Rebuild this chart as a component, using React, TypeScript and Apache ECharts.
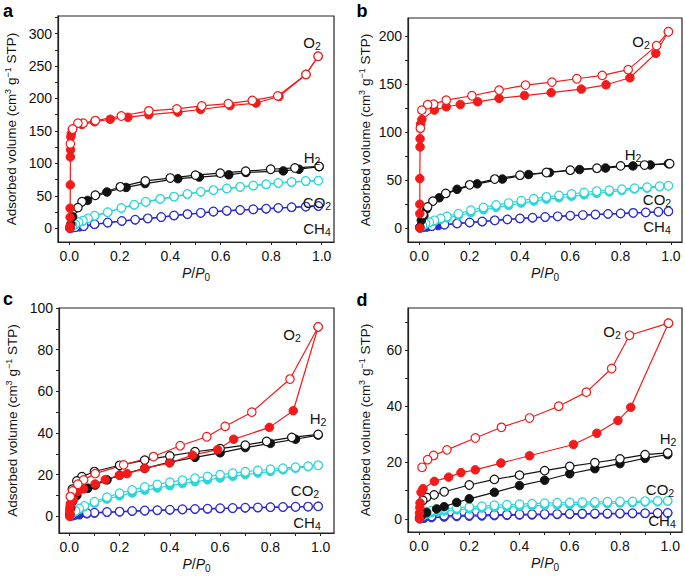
import React, { useEffect, useRef } from "react";
import * as echarts from "echarts";

// ---------- DATA (x = P/P0, y = adsorbed volume) ----------
// Panel a
const a_O2_ads = [[0.002,0],[0.003,3],[0.003,17],[0.003,31],[0.004,67],[0.004,110],[0.005,121],[0.006,141],[0.008,146],[0.012,152],[0.05,160],[0.1,164],[0.162,168],[0.232,171],[0.315,175],[0.43,179],[0.52,183],[0.637,189],[0.74,193],[0.831,203],[0.938,237],[0.986,265]];
const a_O2_des = [[0.986,265],[0.938,237],[0.826,204],[0.725,197],[0.63,192],[0.525,188.5],[0.426,184],[0.315,181],[0.206,173],[0.103,166],[0.055,162],[0.034,162],[0.013,153],[0.004,130]];
const a_H2_ads = [[0.002,1],[0.006,6],[0.013,18],[0.072,43],[0.149,56],[0.225,63],[0.3,69],[0.43,76.5],[0.515,79],[0.632,82.5],[0.7,86],[0.848,88.5],[0.91,91],[0.99,95]];
const a_H2_des = [[0.99,95.5],[0.894,93],[0.798,91],[0.699,88],[0.598,85],[0.5,82],[0.4,77.5],[0.301,73],[0.202,64],[0.103,51],[0.05,41],[0.034,32]];
const a_CO2_ads = [[0.003,1],[0.013,4],[0.024,6],[0.037,9],[0.054,11],[0.074,15],[0.1,19],[0.152,24.5],[0.206,31],[0.257,36],[0.303,40.5],[0.36,45],[0.415,48.5],[0.468,52.5],[0.521,56],[0.571,58.5],[0.624,61],[0.677,63.5],[0.729,65.5],[0.78,67.5],[0.828,69.5],[0.881,71],[0.937,72.5],[0.987,73.5]];
const a_CO2_des = [[0.987,73.5],[0.937,73],[0.881,71.5],[0.828,70],[0.78,68],[0.729,66],[0.677,64],[0.624,61.5],[0.571,59],[0.521,56.5],[0.468,53],[0.415,49],[0.36,45.5],[0.303,41],[0.257,36.5],[0.206,31.5],[0.152,25],[0.1,19.5],[0.074,15.5],[0.054,12],[0.037,9.5],[0.024,6.5],[0.013,4.5]];
const a_CH4_ads = [[0.003,0],[0.012,0.8],[0.024,1.5],[0.04,2.3],[0.057,3],[0.1,6],[0.152,8.5],[0.208,11],[0.261,13],[0.311,15],[0.364,17],[0.415,19.5],[0.468,21.5],[0.521,23.5],[0.571,25.5],[0.624,26.8],[0.677,28],[0.729,29],[0.78,30],[0.828,31.3],[0.881,32.3],[0.937,33.3],[0.987,34.2]];
const a_CH4_des = [[0.987,34.5],[0.937,33.6],[0.881,32.6],[0.828,31.6],[0.78,30.4],[0.729,29.4],[0.677,28.4],[0.624,27.2],[0.571,26],[0.521,24],[0.468,22],[0.415,20],[0.364,17.5],[0.311,15.5],[0.261,13.5],[0.208,11.5],[0.152,9],[0.1,6.5],[0.057,3.5],[0.024,2]];

// Panel b
const b_O2_ads = [[0.002,0],[0.002,15],[0.002,24.7],[0.002,51.5],[0.003,84.5],[0.003,93],[0.005,108],[0.01,113],[0.06,122.8],[0.107,126.3],[0.163,128.7],[0.232,131.5],[0.317,135],[0.418,138],[0.524,141],[0.644,144.7],[0.742,149.2],[0.837,156.5],[0.94,182],[0.99,204.5]];
const b_O2_des = [[0.99,204.5],[0.943,190],[0.83,165],[0.727,159],[0.626,155.5],[0.527,152],[0.422,148.9],[0.317,143.7],[0.209,137.8],[0.107,133.2],[0.057,129],[0.033,128.5],[0.01,122.8],[0.004,104]];
const b_H2_ads = [[0.002,1],[0.008,8],[0.018,13],[0.03,20],[0.079,31.5],[0.15,40.3],[0.23,46],[0.33,51],[0.434,55.7],[0.517,57.8],[0.637,60.9],[0.74,62.5],[0.849,64.7],[0.918,65.7],[0.99,67]];
const b_H2_des = [[0.995,67],[0.895,65.6],[0.8,64.7],[0.706,62.3],[0.6,60.2],[0.505,57.8],[0.4,55],[0.3,51],[0.2,45],[0.105,36],[0.054,28],[0.033,22],[0.015,14]];
const b_CO2_ads = [[0.003,0.5],[0.013,2],[0.025,4],[0.04,5.5],[0.06,7],[0.085,9],[0.11,10.5],[0.155,13],[0.205,16],[0.255,19],[0.305,21.5],[0.355,23.5],[0.405,26],[0.455,28],[0.505,30],[0.555,31.5],[0.605,33],[0.655,34.5],[0.705,36],[0.755,37.5],[0.805,39],[0.855,40.5],[0.905,41.5],[0.955,43],[0.99,44]];
const b_CO2_des = [[0.99,44],[0.955,43.5],[0.905,42.5],[0.855,41.5],[0.805,40.5],[0.755,39.5],[0.705,38.5],[0.655,37],[0.605,35.5],[0.555,34],[0.505,32.5],[0.455,30.5],[0.405,28.5],[0.355,26],[0.305,24],[0.255,21.5],[0.205,18.5],[0.155,15],[0.11,12],[0.085,10],[0.06,8],[0.04,6],[0.025,4.5],[0.013,2.5]];
const b_CH4_ads = [[0.003,0],[0.015,0.5],[0.03,1],[0.05,1.8],[0.075,2.5],[0.1,3.3],[0.15,4.5],[0.2,5.5],[0.25,6.5],[0.3,7.8],[0.35,8.8],[0.4,9.8],[0.45,10.5],[0.5,11.2],[0.55,12],[0.6,12.7],[0.65,13.3],[0.7,13.9],[0.75,14.5],[0.8,15],[0.85,15.6],[0.9,16.1],[0.95,16.7],[0.99,17.2]];
const b_CH4_des = [[0.99,17.4],[0.95,16.9],[0.9,16.3],[0.85,15.8],[0.8,15.2],[0.75,14.7],[0.7,14.1],[0.65,13.5],[0.6,12.9],[0.55,12.2],[0.5,11.5],[0.45,10.8],[0.4,10],[0.35,9],[0.3,8],[0.25,6.8],[0.2,5.8],[0.15,4.8],[0.1,3.6],[0.05,2]];

// Panel c
const c_O2_ads = [[0.002,0],[0.002,1.5],[0.002,3],[0.003,4.5],[0.004,6],[0.017,8],[0.034,12],[0.057,13.2],[0.103,15.5],[0.143,17.6],[0.2,19.7],[0.23,20.5],[0.3,23],[0.399,25.6],[0.49,29.4],[0.59,32],[0.654,37],[0.796,42.7],[0.891,50.7],[0.99,90.9]];
const c_O2_des = [[0.99,90.9],[0.878,65.9],[0.726,50],[0.62,43.2],[0.547,38.2],[0.441,33.9],[0.335,28.7],[0.216,24.7],[0.103,20.5],[0.057,17.5],[0.034,15.4],[0.013,12.2],[0.004,9.5]];
const c_H2_ads = [[0.002,1],[0.006,4],[0.013,7.2],[0.03,10],[0.074,13.5],[0.103,15],[0.15,17.5],[0.2,19.8],[0.3,23],[0.4,26],[0.5,28.3],[0.6,30.5],[0.7,33],[0.8,35],[0.9,37],[0.99,39]];
const c_H2_des = [[0.99,39.3],[0.885,37.9],[0.785,36],[0.7,34.2],[0.6,32.5],[0.5,31],[0.4,29],[0.3,27],[0.2,24.5],[0.1,21.5],[0.05,19],[0.03,17],[0.012,13]];
const c_CO2_ads = [[0.003,0.3],[0.012,1.2],[0.025,2.3],[0.04,3.3],[0.06,4.6],[0.1,6.3],[0.15,8.3],[0.2,9.8],[0.25,11.2],[0.3,12.5],[0.35,13.6],[0.4,14.7],[0.45,15.7],[0.5,16.6],[0.55,17.5],[0.6,18.4],[0.65,19.2],[0.7,20],[0.75,20.8],[0.8,21.5],[0.85,22.3],[0.9,23],[0.95,23.8],[0.99,24.5]];
const c_CO2_des = [[0.99,24.5],[0.95,24.1],[0.9,23.6],[0.85,23.1],[0.8,22.6],[0.75,22],[0.7,21.4],[0.65,20.7],[0.6,20],[0.55,19.2],[0.5,18.3],[0.45,17.4],[0.4,16.4],[0.35,15.3],[0.3,14.1],[0.25,12.7],[0.2,11.1],[0.15,9.2],[0.1,7],[0.06,5],[0.04,3.8],[0.025,2.6]];
const c_CH4_ads = [[0.003,0],[0.01,0.2],[0.02,0.4],[0.04,0.7],[0.07,1.2],[0.1,1.5],[0.15,1.9],[0.2,2.1],[0.25,2.4],[0.3,2.6],[0.35,2.8],[0.4,3],[0.45,3.2],[0.5,3.4],[0.55,3.5],[0.6,3.7],[0.65,3.8],[0.7,4],[0.75,4.1],[0.8,4.3],[0.85,4.4],[0.9,4.5],[0.95,4.6],[0.99,4.8]];
const c_CH4_des = [[0.99,4.8],[0.95,4.7],[0.9,4.6],[0.85,4.5],[0.8,4.4],[0.75,4.3],[0.7,4.2],[0.65,4],[0.6,3.9],[0.55,3.7],[0.5,3.6],[0.45,3.4],[0.4,3.2],[0.35,3],[0.3,2.8],[0.25,2.6],[0.2,2.3],[0.15,2.1],[0.1,1.8],[0.07,1.6]];

// Panel d
const d_O2_ads = [[0.002,0],[0.002,2],[0.003,4],[0.004,5.6],[0.008,9.4],[0.016,10.7],[0.061,13.3],[0.118,14.8],[0.167,16.4],[0.224,17.4],[0.326,19.8],[0.44,22.4],[0.615,26.4],[0.708,30.4],[0.792,34.9],[0.843,39.6],[0.993,69.5]];
const d_O2_des = [[0.993,69.5],[0.838,65.2],[0.767,53.4],[0.666,45],[0.556,40],[0.44,35.8],[0.328,32.5],[0.224,28.7],[0.111,24.5],[0.058,22.5],[0.034,21],[0.012,18.3]];
const d_H2_ads = [[0.002,0.3],[0.008,1],[0.03,2.2],[0.07,3.5],[0.1,4.3],[0.15,5.8],[0.2,7.1],[0.3,9.4],[0.4,11.8],[0.5,13.7],[0.6,16],[0.7,17.8],[0.8,19.6],[0.9,21.5],[0.99,22.8]];
const d_H2_des = [[0.99,23.4],[0.9,22.8],[0.8,21.3],[0.7,19.9],[0.6,18.6],[0.5,17.1],[0.4,15.5],[0.3,14],[0.2,12],[0.1,9.6],[0.06,8.5],[0.03,7.6],[0.015,6.5]];
const d_CO2_ads = [[0.003,0.2],[0.015,1],[0.03,1.6],[0.05,2.1],[0.075,2.5],[0.1,2.8],[0.15,3.2],[0.2,3.5],[0.25,3.8],[0.3,4],[0.35,4.2],[0.4,4.4],[0.45,4.6],[0.5,4.8],[0.55,4.9],[0.6,5],[0.65,5.2],[0.7,5.3],[0.75,5.4],[0.8,5.6],[0.85,5.7],[0.9,5.9],[0.95,6],[0.99,6.2]];
const d_CO2_des = [[0.99,6.4],[0.95,6.35],[0.9,6.3],[0.85,6.2],[0.8,6.15],[0.75,6.05],[0.7,6],[0.65,5.9],[0.6,5.8],[0.55,5.7],[0.5,5.55],[0.45,5.4],[0.4,5.2],[0.35,5],[0.3,4.8],[0.25,4.5],[0.2,4.2],[0.15,3.9],[0.1,3.5],[0.075,3.2],[0.05,2.9],[0.03,2.5]];
const d_CH4_ads = [[0.003,0],[0.02,0.2],[0.05,0.4],[0.1,0.6],[0.15,0.8],[0.2,0.9],[0.25,1],[0.3,1.1],[0.35,1.2],[0.4,1.3],[0.45,1.35],[0.5,1.4],[0.55,1.5],[0.6,1.55],[0.65,1.6],[0.7,1.65],[0.75,1.7],[0.8,1.75],[0.85,1.8],[0.9,1.85],[0.95,1.9],[0.99,2]];
const d_CH4_des = [[0.99,2.1],[0.95,2.05],[0.9,2],[0.85,2],[0.8,1.95],[0.75,1.9],[0.7,1.9],[0.65,1.85],[0.6,1.8],[0.55,1.75],[0.5,1.7],[0.45,1.65],[0.4,1.6],[0.35,1.5],[0.3,1.45],[0.25,1.4],[0.2,1.3],[0.15,1.2],[0.1,1.1],[0.05,0.9]];

// Tick values
const X_LABELS = [0, 0.2, 0.4, 0.6, 0.8, 1.0];
const X_TICKS = [0, 0.1, 0.2, 0.3, 0.4, 0.5, 0.6, 0.7, 0.8, 0.9, 1.0];
const A_Y_LABELS = [0, 50, 100, 150, 200, 250, 300];
const A_Y_TICKS = [0, 25, 50, 75, 100, 125, 150, 175, 200, 225, 250, 275, 300, 325];
const B_Y_LABELS = [0, 50, 100, 150, 200];
const B_Y_TICKS = [0, 25, 50, 75, 100, 125, 150, 175, 200];
const C_Y_LABELS = [0, 20, 40, 60, 80, 100];
const C_Y_TICKS = [0, 10, 20, 30, 40, 50, 60, 70, 80, 90, 100];
const D_Y_LABELS = [0, 20, 40, 60];
const D_Y_TICKS = [0, 10, 20, 30, 40, 50, 60, 70];

const GASES = ["CH4", "CO2", "H2", "O2"];
const COLORS: Record<string, string> = { O2: "#f31a1a", H2: "#111111", CO2: "#2ad6d6", CH4: "#2b2bd0" };

const FONT = "'Liberation Sans', Arial, Helvetica, sans-serif";

const PANELS = [
  {
    letter: "a", grid: { left: 58, top: 16, width: 276, height: 226 },
    xRange: [-0.045, 1.049], yRange: [-21, 327], yLabels: A_Y_LABELS, yTicks: A_Y_TICKS,
    data: { O2: [a_O2_ads, a_O2_des], H2: [a_H2_ads, a_H2_des], CO2: [a_CO2_ads, a_CO2_des], CH4: [a_CH4_ads, a_CH4_des] },
    yGap: 38, letterPos: [8, 20],
    labels: { O2: [312, 42], H2: [312, 157], CO2: [317, 202], CH4: [317, 228] },
  },
  {
    letter: "b", grid: { left: 408, top: 18, width: 274, height: 224 },
    xRange: [-0.045, 1.044], yRange: [-14.6, 218.8], yLabels: B_Y_LABELS, yTicks: B_Y_TICKS,
    data: { O2: [b_O2_ads, b_O2_des], H2: [b_H2_ads, b_H2_des], CO2: [b_CO2_ads, b_CO2_des], CH4: [b_CH4_ads, b_CH4_des] },
    yGap: 34, letterPos: [362, 20],
    labels: { O2: [641, 41], H2: [633, 154], CO2: [657, 199], CH4: [657, 226] },
  },
  {
    letter: "c", grid: { left: 59, top: 308, width: 275, height: 225 },
    xRange: [-0.041, 1.053], yRange: [-8, 100], yLabels: C_Y_LABELS, yTicks: C_Y_TICKS,
    data: { O2: [c_O2_ads, c_O2_des], H2: [c_H2_ads, c_H2_des], CO2: [c_CO2_ads, c_CO2_des], CH4: [c_CH4_ads, c_CH4_des] },
    yGap: 38, letterPos: [8, 308],
    labels: { O2: [292, 334], H2: [318, 418], CO2: [305, 490], CH4: [307, 522] },
  },
  {
    letter: "d", grid: { left: 408, top: 308, width: 274, height: 224 },
    xRange: [-0.044, 1.047], yRange: [-4.7, 74.9], yLabels: D_Y_LABELS, yTicks: D_Y_TICKS,
    data: { O2: [d_O2_ads, d_O2_des], H2: [d_H2_ads, d_H2_des], CO2: [d_CO2_ads, d_CO2_des], CH4: [d_CH4_ads, d_CH4_des] },
    yGap: 34, letterPos: [362, 309],
    labels: { O2: [612, 331], H2: [668, 438], CO2: [660, 489], CH4: [662, 520] },
  },
];

const GAS_TEXT: Record<string, string> = {
  O2: "{n|O}{s|2}",
  H2: "{n|H}{s|2}",
  CO2: "{n|CO}{s|2}",
  CH4: "{n|CH}{s|4}",
};

const AXIS_COLOR = "#222";

function buildOption() {
  const grid: any[] = [];
  const xAxis: any[] = [];
  const yAxis: any[] = [];
  const series: any[] = [];
  const graphic: any[] = [];

  PANELS.forEach((p, i) => {
    grid.push({ ...p.grid, show: true, borderColor: AXIS_COLOR, borderWidth: 1.2, backgroundColor: "transparent" });
    xAxis.push({
      gridIndex: i, type: "value", min: p.xRange[0], max: p.xRange[1],
      axisLine: { show: true, onZero: false, lineStyle: { color: AXIS_COLOR, width: 1.2 } },
      axisTick: { show: true, inside: false, length: 3, customValues: X_TICKS, lineStyle: { color: AXIS_COLOR, width: 1 } },
      axisLabel: {
        customValues: X_LABELS, formatter: (v: number) => v.toFixed(1), margin: 7,
        fontSize: 14, color: "#111", fontFamily: FONT,
      },
      splitLine: { show: false },
      name: "{i|P}{n|/}{i|P}{s|0}", nameLocation: "middle", nameGap: 22,
      nameTextStyle: {
        rich: {
          i: { fontSize: 14, fontStyle: "italic", fontFamily: FONT, color: "#111", lineHeight: 14, verticalAlign: "middle" },
          n: { fontSize: 14, fontFamily: FONT, color: "#111", lineHeight: 14, verticalAlign: "middle" },
          s: { fontSize: 10, fontFamily: FONT, color: "#111", lineHeight: 18, verticalAlign: "bottom" },
        },
      },
    });
    yAxis.push({
      gridIndex: i, type: "value", min: p.yRange[0], max: p.yRange[1],
      axisLine: { show: true, onZero: false, lineStyle: { color: AXIS_COLOR, width: 1.2 } },
      axisTick: { show: true, inside: false, length: 3, customValues: p.yTicks, lineStyle: { color: AXIS_COLOR, width: 1 } },
      axisLabel: { customValues: p.yLabels, margin: 6, fontSize: 14, color: "#111", fontFamily: FONT },
      splitLine: { show: false },
      name: "{n|Adsorbed volume (cm}{p|3}{n| g}{p|−1}{n| STP)}", nameLocation: "middle", nameGap: p.yGap, nameRotate: 90,
      nameTextStyle: {
        rich: {
          n: { fontSize: 13.5, fontFamily: FONT, color: "#111", lineHeight: 13, verticalAlign: "middle" },
          p: { fontSize: 9, fontFamily: FONT, color: "#111", lineHeight: 17, verticalAlign: "top" },
        },
      },
    });

    GASES.forEach((g) => {
      const color = COLORS[g];
      const [ads, des] = (p.data as any)[g];
      series.push({
        type: "line", xAxisIndex: i, yAxisIndex: i, data: ads, symbol: "circle", symbolSize: 8.5,
        lineStyle: { color, width: 1.2 }, itemStyle: { color, borderColor: color, borderWidth: 1 },
        silent: true, emphasis: { disabled: true }, clip: false,
      });
      series.push({
        type: "line", xAxisIndex: i, yAxisIndex: i, data: des, symbol: "circle", symbolSize: 8.5,
        lineStyle: { color, width: 1.2 }, itemStyle: { color: "#ffffff", borderColor: color, borderWidth: 1.2 },
        silent: true, emphasis: { disabled: true }, clip: false,
      });
    });

    graphic.push({
      type: "text", x: p.letterPos[0], y: p.letterPos[1],
      style: { text: p.letter, font: `bold 18px ${FONT}`, fill: "#000", align: "center", verticalAlign: "bottom" },
    });
    GASES.forEach((g) => {
      const pos = (p.labels as any)[g];
      graphic.push({
        type: "text", x: pos[0], y: pos[1], z: 100,
        style: {
          text: GAS_TEXT[g], align: "center", verticalAlign: "middle", fill: "#111",
          font: `15px ${FONT}`,
          rich: {
            n: { font: `15px ${FONT}`, fill: "#111", lineHeight: 15, verticalAlign: "middle" },
            s: { font: `10.5px ${FONT}`, fill: "#111", lineHeight: 19, verticalAlign: "bottom" },
          },
        },
      });
    });
  });

  return {
    animation: false,
    backgroundColor: "#ffffff",
    textStyle: { fontFamily: FONT },
    grid, xAxis, yAxis, series, graphic,
  };
}

export default function App() {
  const ref = useRef<HTMLDivElement>(null);
  useEffect(() => {
    if (!ref.current) return;
    const chart = echarts.init(ref.current, undefined, { renderer: "svg" });
    chart.setOption(buildOption() as any);
    return () => chart.dispose();
  }, []);
  return (
    <div
      ref={ref}
      style={{ position: "fixed", left: 0, top: 0, width: 685, height: 577, background: "#fff" }}
    />
  );
}
